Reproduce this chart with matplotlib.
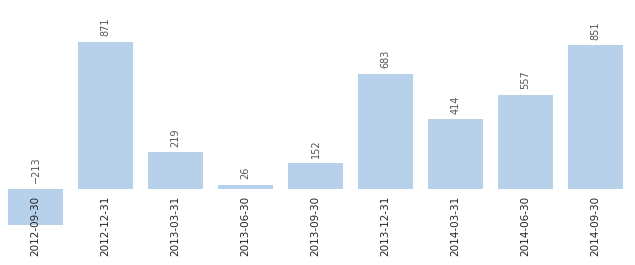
import numpy as np
import matplotlib.pyplot as plt

dates = ["2012-09-30", "2012-12-31", "2013-03-31", "2013-06-30", "2013-09-30",
         "2013-12-31", "2014-03-31", "2014-06-30", "2014-09-30"]
values = [-213, 871, 219, 26, 152, 683, 414, 557, 851]

fig = plt.figure(figsize=(6.35, 2.65), dpi=100)
ax = fig.add_axes([0.5 / 635, 0, 630 / 635, 1])

x = np.arange(len(dates))
ax.bar(x, values, width=0.786, color="#b8d1ea")

for i, v in enumerate(values):
    ax.annotate(str(v).replace("-", "\u2212"), (i, max(v, 0)), xytext=(0, 4),
                textcoords="offset points", rotation=90, ha="center", va="bottom",
                fontsize=7, color="#555555")

ax.set_xlim(-0.5, len(dates) - 0.5)
ax.set_ylim(-450, 1120)
ax.spines["bottom"].set_position(("data", 0))
for s in ax.spines.values():
    s.set_visible(False)
ax.set_yticks([])
ax.set_xticks(x)
ax.set_xticklabels(dates, rotation=90, fontsize=7.5, color="#222222")
ax.tick_params(axis="x", length=0, pad=5)

fig.savefig("out.png", dpi=100)
